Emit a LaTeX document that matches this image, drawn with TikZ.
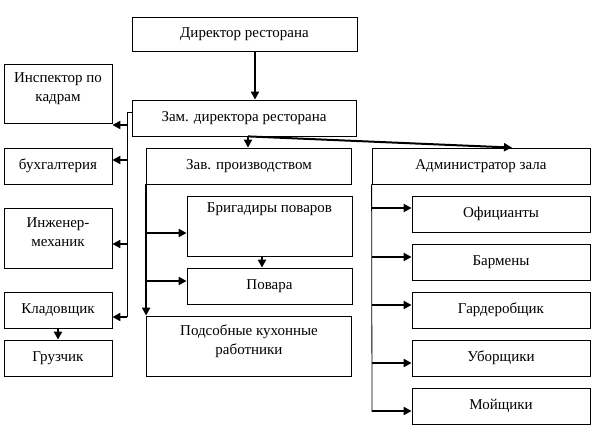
\documentclass[tikz,border=0pt]{standalone}
\usepackage{fontspec}
\setmainfont{Liberation Serif}
\usetikzlibrary{arrows.meta}
\begin{document}
\begin{tikzpicture}[x=1pt,y=-1pt,
    box/.style={draw,line width=.8pt,align=center,inner sep=2pt,font=\fontsize{15}{19}\selectfont},
    lft/.style={box,minimum width=108,minimum height=36},
    rgt/.style={box,minimum width=178,minimum height=36},
    arr/.style={line width=2pt,-{Triangle[length=8pt,width=8pt]}},
    bus/.style={line width=.8pt}]
  \useasboundingbox (0,0) rectangle (595,430);
  % top
  \node[box,minimum width=225,minimum height=34] (dir) at (244.5,34) {Директор ресторана};
  \node[box,minimum width=224,minimum height=36] (zam) at (244,118) {Зам. директора ресторана};
  % left column
  \node[lft,minimum height=59,text depth=12pt] (insp) at (58,93.5) {Инспектор по\\кадрам};
  \node[lft] (buh) at (58,166) {бухгалтерия};
  \node[lft,minimum height=60,text depth=12pt] (ing) at (58,238) {Инженер-\\механик};
  \node[lft] (klad) at (58,310) {Кладовщик};
  \node[lft] (gruz) at (58,358) {Грузчик};
  % kitchen
  \node[box,minimum width=205,minimum height=36] (zav) at (249,166) {Зав. производством};
  \node[box,minimum width=165,minimum height=60,text depth=36pt] (brig) at (269.5,226) {Бригадиры поваров};
  \node[box,minimum width=165,minimum height=36] (povar) at (269.5,286) {Повара};
  \node[box,minimum width=205,minimum height=60,text depth=12pt] (podsob) at (249,346) {Подсобные кухонные\\работники};
  % hall
  \node[box,minimum width=218,minimum height=36] (adm) at (481,166) {Администратор зала};
  \foreach \n/\t [count=\i] in {ofic/Официанты,barm/Бармены,gard/Гардеробщик,ubor/Уборщики,moi/Мойщики}
    \node[rgt] (\n) at (501,166+48*\i) {\t};
  % connectors
  \draw[arr] (255,0 |- dir.south) -- (255,0 |- zam.north);
  \draw[bus] (zam.west) ++(0,-6) -| (127,317);
  \foreach \n/\y in {insp/125,buh/160,ing/244,klad/317}
    \draw[arr] (127,\y) -- (\n.east |- 127,\y);
  \draw[arr] (248,0 |- zam.south) -- (248,0 |- zav.north);
  \draw[arr] (248,0 |- zam.south) -- (512,0 |- adm.north);
  \draw[arr] (zav.south west) -- (podsob.north west);
  \draw[arr] (147,233) -- (brig.west |- 147,233);
  \draw[arr] (147,281) -- (povar.west |- 147,281);
  \draw[arr] (262,0 |- brig.south) -- (262,0 |- povar.north);
  \draw[arr] (klad.south) -- (gruz.north);
  \draw[bus] (adm.south west) -- (372,412);
  \foreach \n/\y in {ofic/208,barm/257,gard/305,ubor/363,moi/411}
    \draw[arr] (372,\y) -- (\n.west |- 372,\y);
\end{tikzpicture}
\end{document}
